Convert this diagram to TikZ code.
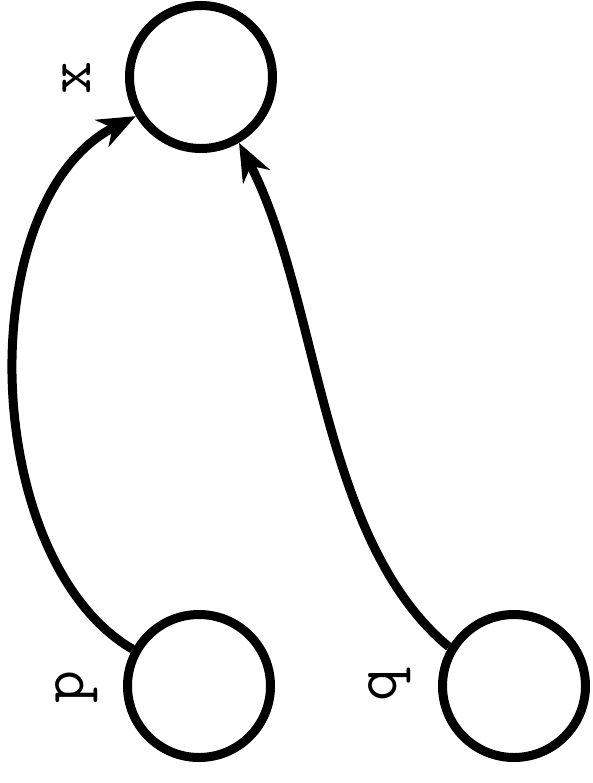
\documentclass[tikz,border=0pt]{standalone}
\usetikzlibrary{arrows.meta}
\begin{document}
\begin{tikzpicture}[x=1pt,y=1pt,
  vtx/.style={circle,draw,line width=9pt,minimum size=143pt,inner sep=0pt},
  lbl/.style={rotate=90,font=\ttfamily\fontsize{64}{64}\selectfont,inner sep=0pt},
  edge/.style={line width=9pt,-{Stealth[length=38pt,width=30pt,inset=12pt]}}]
\useasboundingbox (0,0) rectangle (593,-783);
\node[vtx] (x) at (201,-77) {};
\node[vtx] (p) at (199,-686) {};
\node[vtx] (q) at (514,-686) {};
\node[lbl] (lx) at (77,-78) {x};
\node[lbl] (lp) at (77,-687) {p};
\node[lbl] (lq) at (390,-685) {q};
\draw[edge] (p.151) .. controls (-20,-560) and (-30,-200) .. (x.211);
\draw[edge] (q.149) .. controls (320,-540) and (320,-300) .. (x.300);
\end{tikzpicture}
\end{document}
